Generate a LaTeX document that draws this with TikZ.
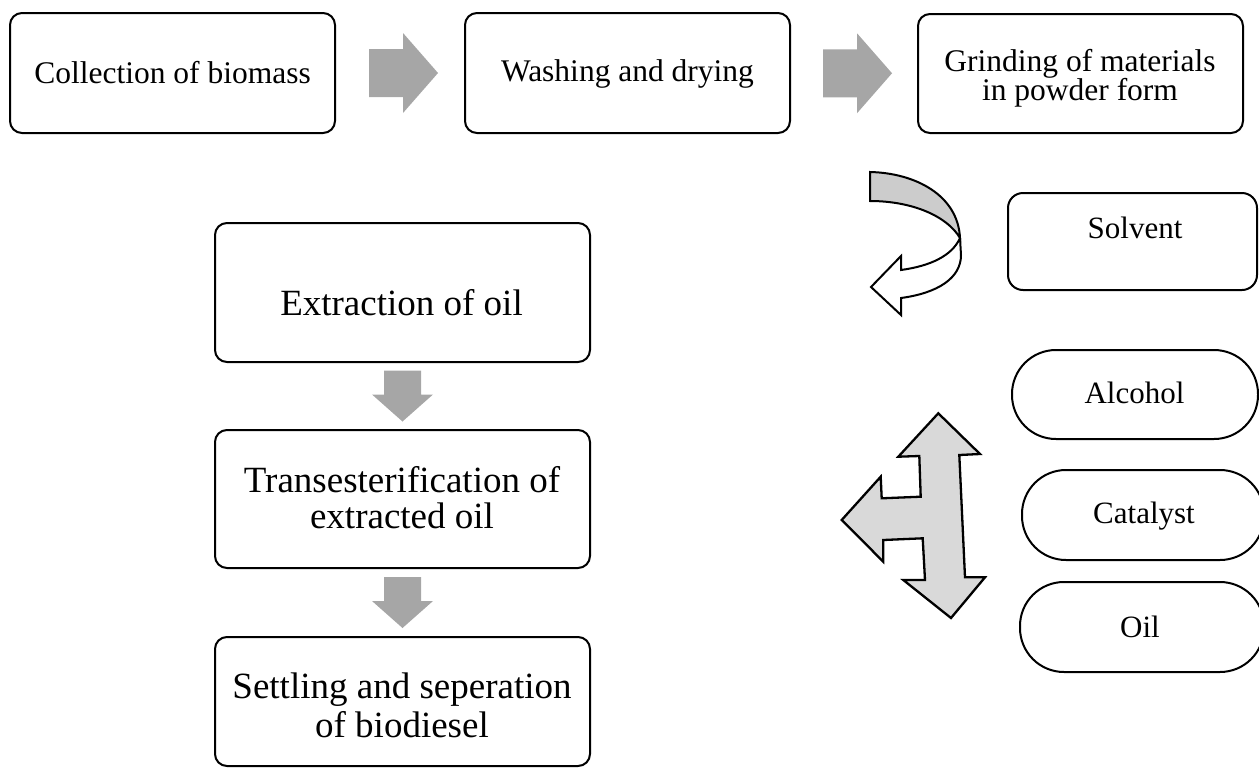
\documentclass[tikz,border=0pt]{standalone}
\usepackage{fontspec}
\setmainfont{Liberation Serif}
\usetikzlibrary{calc}
\definecolor{blockgray}{RGB}{166,166,166}
\definecolor{bandgray}{RGB}{204,204,204}
\definecolor{forkgray}{RGB}{217,217,217}
\newcommand{\twoline}[3]{\vtop{\baselineskip=#1\lineskiplimit=-100pt\halign{\hfil##\hfil\cr #2\cr #3\cr}}}
\begin{document}
\begin{tikzpicture}[x=1pt,y=-1pt,
  box/.style={draw=black, line width=2pt, rounded corners=12pt, inner sep=0pt},
  topbox/.style={box, minimum width=325pt, minimum height=120pt},
  stepbox/.style={box, minimum width=375pt},
  pill/.style={draw=black, line width=2pt, rounded corners=44pt, inner sep=0pt, minimum height=89pt},
  toptext/.style={font=\fontsize{31.5}{34}\selectfont, inner sep=0pt, anchor=base},
  bigtext/.style={font=\fontsize{37}{40}\selectfont, inner sep=0pt, anchor=base},
  sidetext/.style={font=\fontsize{31}{34}\selectfont, inner sep=0pt, anchor=base},
  blockarrow/.style={fill=blockgray, draw=none},
  outline/.style={draw=black, line width=2pt, line join=miter}
]
\useasboundingbox (0,0) rectangle (1259,769);
\clip (0,0) rectangle (1259,769);

% top row
\node[topbox] (collect) at (172.5,73) {};
\node[topbox] (wash) at (627.5,73) {};
\node[topbox, minimum height=119pt] (grind) at (1080.5,73.5) {};
\node[toptext] (collectT) at (172.5,83) {Collection of biomass};
\node[toptext] (washT) at (627.5,81) {Washing and drying};
\node[toptext] (grindT) at (1080,71) {\twoline{29.5pt}{Grinding of materials}{in powder form}};

% right-pointing block arrows between top boxes
\path (collect.east) -- (wash.west) coordinate[pos=0.5] (m12);
\path (wash.east) -- (grind.west) coordinate[pos=0.5] (m23);
\foreach \m in {m12,m23}{
  \fill[blockarrow, shift={(\m)}] (-31,-24) -- (3,-24) -- (3,-40) -- (38,0) -- (3,40) -- (3,24) -- (-31,24) -- cycle;
}

% left column
\node[stepbox, minimum height=139pt] (extract) at (402.5,292.5) {};
\node[stepbox, minimum height=138pt] (trans) at (402.5,499) {};
\node[stepbox, minimum height=129pt] (settle) at (402.5,701.5) {};
\node[bigtext] (extractT) at (401.5,315) {Extraction of oil};
\node[bigtext] (transT) at (402,492) {\twoline{36pt}{Transesterification of}{extracted oil}};
\node[bigtext] (settleT) at (402,698) {\twoline{39pt}{Settling and seperation}{of biodiesel}};

\path (extract.south) -- (trans.north) coordinate[pos=0.5] (d12);
\path (trans.south) -- (settle.north) coordinate[pos=0.5] (d23);
\foreach \m in {d12,d23}{
  \fill[blockarrow, shift={(\m)}] (-18.5,-25.5) -- (18.5,-25.5) -- (18.5,-1.5) -- (30.5,-1.5) -- (0,25.5) -- (-30.5,-1.5) -- (-18.5,-1.5) -- cycle;
}

% right side
\node[box, rounded corners=15pt, minimum width=249pt, minimum height=97pt] (solvent) at (1132.5,241.5) {};
\node[sidetext] (solventT) at (1135,238) {Solvent};
\node[pill, minimum width=246pt] (alcohol) at (1135,394.5) {};
\node[pill, minimum width=242pt, minimum height=90pt] (catalyst) at (1143,515) {};
\node[pill, minimum width=244pt, minimum height=90pt] (oil) at (1142,627) {};
\node[sidetext] (alcoholT) at (1134.5,403) {Alcohol};
\node[sidetext] (catalystT) at (1144,523) {Catalyst};
\node[sidetext] (oilT) at (1140,637) {Oil};

% curved arrow (3D band)
\draw[outline, fill=bandgray] (870,172) .. controls (915,173) and (958,195) .. (960,238)
  .. controls (947,216) and (912,201) .. (870,201) -- cycle;
\draw[outline, fill=white] (960,238) .. controls (952,256) and (930,266) .. (901,270)
  -- (901,256) -- (871,287) -- (901,315) -- (901,298)
  .. controls (938,293) and (961,278) .. (961,255) -- cycle;

% three-way block arrow
\draw[outline, line width=2.3pt, fill=forkgray]
  (938.3,413.3) -- (980,454) -- (959.3,455) -- (965,577.3) -- (985,577.3) -- (951,618)
  -- (903.3,580) -- (925,580) -- (922.7,538.3) -- (883.3,540) -- (883.3,561.7)
  -- (841.7,520) -- (880.7,476.7) -- (881.7,498.3) -- (920.7,496.7) -- (919.3,456)
  -- (898.3,456.7) -- cycle;
\end{tikzpicture}
\end{document}
